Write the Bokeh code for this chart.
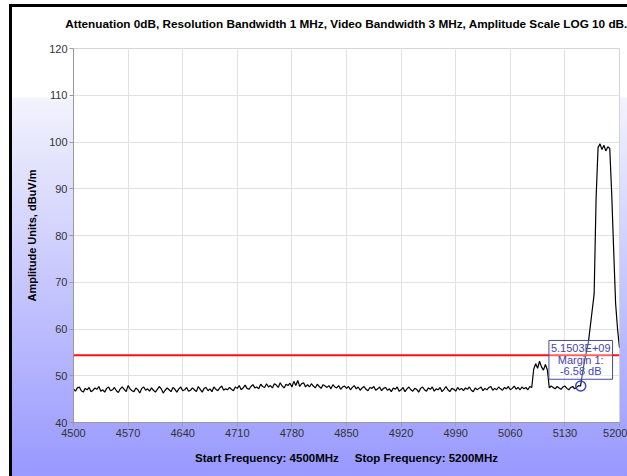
import numpy as np
from bokeh.plotting import figure
from bokeh.models import Span, Label, FixedTicker, Range1d, Title
from bokeh.embed import file_html
from bokeh.resources import INLINE

# ---------------- data ----------------
title_text = "Attenuation 0dB, Resolution Bandwidth 1 MHz, Video Bandwidth 3 MHz, Amplitude Scale LOG 10 dB."
y_label = "Amplitude Units, dBuV/m"
x_label = "Start Frequency: 4500MHz" + "\u00a0" * 4 + " " + "Stop Frequency: 5200MHz"

start_freq = 4500
stop_freq = 5200
step_freq = 2.5
x_ticks = [4500, 4570, 4640, 4710, 4780, 4850, 4920, 4990, 5060, 5130, 5200]
y_ticks = [40, 50, 60, 70, 80, 90, 100, 110, 120]

amp = [
    # 4500 - 4547.5
    47.2, 46.7, 47.4, 47.6, 46.8, 46.5, 47.3, 47.0, 47.5, 46.6, 46.9, 47.4, 47.1, 47.7, 46.7, 47.0, 46.5, 47.3, 47.6, 46.8,
    # 4550 - 4597.5
    47.0, 47.5, 46.8, 46.4, 47.2, 47.6, 47.1, 46.6, 47.9, 47.2, 46.8, 46.6, 47.4, 47.0, 46.3, 47.3, 47.6, 46.9, 47.2, 46.7,
    # 4600 - 4647.5
    47.4, 46.9, 46.5, 47.1, 47.7, 47.2, 46.3, 46.9, 47.4, 47.0, 46.6, 47.5, 47.1, 46.5, 47.2, 47.6, 46.8, 47.0, 47.5, 46.7,
    # 4650 - 4697.5
    46.9, 47.4, 47.0, 46.6, 47.7, 47.1, 46.5, 47.3, 47.5, 46.8, 47.2, 46.6, 47.6, 47.1, 46.8, 47.4, 47.8, 46.9, 47.2, 47.0,
    # 4700 - 4747.5
    47.5, 47.1, 46.8, 47.6, 47.3, 47.9, 47.0, 47.4, 48.0, 47.3, 47.1, 47.7, 48.1, 47.4, 47.6, 47.2, 48.2, 47.7, 47.5, 48.3,
    # 4750 - 4797.5
    47.6, 47.9, 47.4, 48.3, 48.0, 47.5, 48.5, 47.8, 47.4, 48.2, 47.9, 48.4, 47.6, 48.8, 47.9, 49.0, 47.7, 48.3, 48.5, 47.6,
    # 4800 - 4847.5
    48.1, 47.6, 48.3, 47.8, 47.4, 48.2, 47.7, 47.3, 48.1, 47.8, 47.5, 47.9, 47.2, 48.1, 47.6, 47.4, 47.9, 47.1, 47.6, 47.8,
    # 4850 - 4897.5
    47.3, 47.7, 47.0, 47.5, 47.9, 47.2, 47.6, 46.9, 47.4, 47.7, 47.1, 46.8, 47.5, 47.3, 47.7, 46.9, 47.2, 47.6, 46.8, 47.3,
    # 4900 - 4947.5
    47.5, 46.9, 47.2, 46.6, 47.4, 47.1, 47.6, 46.7, 47.0, 47.5, 46.6, 47.2, 47.6, 47.0, 46.7, 47.3, 47.1, 46.5, 47.3, 47.6,
    # 4950 - 4997.5
    47.0, 46.7, 47.4, 47.1, 47.6, 46.7, 47.2, 47.0, 47.5, 46.6, 47.1, 47.7, 47.0, 46.6, 47.3, 47.1, 46.7, 47.5, 47.0, 47.3,
    # 5000 - 5047.5
    46.8, 47.4, 47.1, 47.6, 46.9, 46.6, 47.4, 47.0, 47.3, 47.6, 46.8, 47.3, 47.0, 47.5, 47.7, 46.9, 47.3, 47.0, 47.6, 47.2,
    # 5050 - 5097.5
    46.9, 47.5, 47.2, 47.7, 47.0, 47.3, 47.8, 47.1, 47.5, 47.0, 47.6, 47.2, 47.5, 47.0, 47.7, 47.5, 51.4, 52.6, 51.6, 53.1,
    # 5100 - 5147.5
    51.9, 51.2, 52.4, 51.3, 47.4, 47.8, 47.5, 47.2, 47.7, 47.4, 47.1, 47.6, 47.8, 47.3, 47.0, 47.5, 47.7, 47.2, 47.5, 47.9,
    # 5150 - 5200
    47.8, 50.5, 53.0, 55.0, 57.0, 60.5, 64.0, 67.5, 88.0, 98.8, 99.6, 98.4, 99.3, 98.1, 99.0, 98.6, 89.0, 77.0, 65.5, 60.0, 56.0,
]
freq = start_freq + step_freq * np.arange(len(amp))

limit_level = 54.4
marker_freq = 5150.3
marker_amp = 47.8
marker_label_y = 53.4
marker_text = "5.1503E+09\nMargin 1:\n-6.58 dB"

# ---------------- layout ----------------
W, H = 627, 476
ML, MR, MT, MB = 73, 8, 48, 54
y_min, y_max = 40, 120

bg = ("linear-gradient(#000000, #000000) 9px 4px / 3px 100% no-repeat, "
      "linear-gradient(#000000, #000000) 9px 4px / 100% 3px no-repeat, "
      "linear-gradient(to bottom, #ffffff 0px, #ffffff 97px, #f3f3fd 98px, #9898ff 476px) 12px 0px / 100% 100% no-repeat, "
      "#ffffff")

p = figure(width=W, height=H, x_range=Range1d(start_freq, stop_freq), y_range=Range1d(y_min, y_max),
           output_backend="svg", toolbar_location=None, title=None,
           min_border_left=ML, min_border_right=MR, min_border_top=MT, min_border_bottom=MB,
           styles={"background": bg})

p.background_fill_color = "white"
p.border_fill_color = None
p.outline_line_color = "#d4d4d4"

# title (a small spacer title sits between the frame and the real title)
p.add_layout(Title(text="\u00a0", text_font_size="2px", text_font="Liberation Sans"), "above")
p.add_layout(Title(text=title_text, align="center", text_font="Liberation Sans", text_font_style="bold",
                   text_font_size="11.75px", text_color="black"), "above")

# axes
p.xaxis.ticker = FixedTicker(ticks=x_ticks)
p.yaxis.ticker = FixedTicker(ticks=y_ticks)
for ax in (p.xaxis[0], p.yaxis[0]):
    ax.axis_line_color = "#9a9a9a"
    ax.major_tick_line_color = "#9a9a9a"
    ax.major_tick_out = 4
    ax.major_tick_in = 0
    ax.minor_tick_line_color = None
    ax.major_label_text_font = "Liberation Sans"
    ax.major_label_text_font_size = "11px"
    ax.major_label_text_color = "#333333"
    ax.axis_label_text_font = "Liberation Sans"
    ax.axis_label_text_font_style = "bold"
    ax.axis_label_text_color = "black"
p.yaxis.axis_label_text_font_size = "11px"
p.xaxis.axis_label_text_font_size = "11.5px"
p.yaxis.axis_label = y_label
p.xaxis.axis_label = x_label
p.yaxis.major_label_standoff = 2
p.xaxis.major_label_standoff = 2
p.yaxis.axis_label_standoff = 8
p.xaxis.axis_label_standoff = 12

p.xgrid.grid_line_color = "#e2e2e2"
p.ygrid.grid_line_color = "#e2e2e2"

# limit line
p.add_layout(Span(location=limit_level, dimension="width", line_color="#ff1010", line_width=2))

# trace
p.line(freq, amp, line_color="black", line_width=1.2)

# marker
p.scatter([marker_freq], [marker_amp], marker="circle", size=10, fill_color=None,
          line_color="#3a44cc", line_width=1.5)
p.add_layout(Label(x=marker_freq, y=marker_label_y, text=marker_text, text_align="center",
                   text_baseline="middle", text_font="Liberation Sans", text_font_size="11px",
                   text_line_height=0.95,
                   text_color="#4545b0", border_line_color="#4a4a9e", border_line_width=1,
                   background_fill_color="white", background_fill_alpha=0.35, padding=2))

open("out.html", "w").write(file_html(p, INLINE))
